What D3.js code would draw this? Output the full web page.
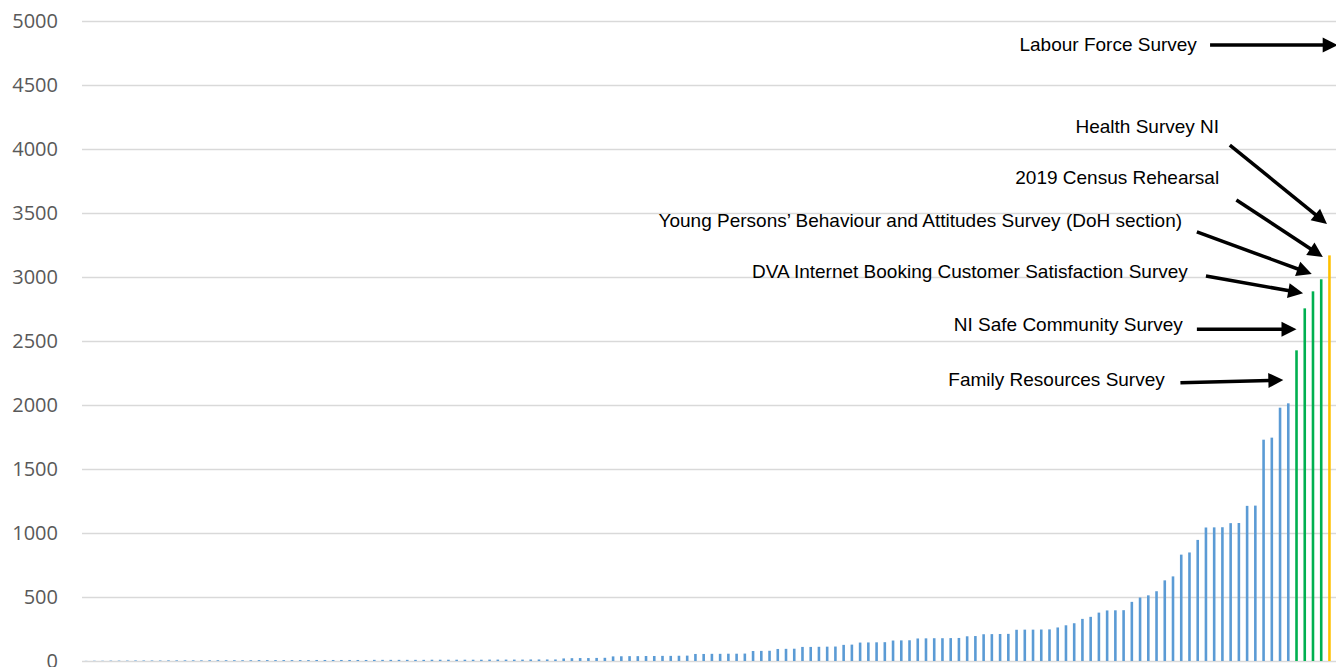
<!DOCTYPE html>
<html>
<head>
<meta charset="utf-8">
<script src="https://cdn.jsdelivr.net/npm/d3@7"></script>
<style>
  html, body { margin: 0; padding: 0; background: #ffffff; overflow: hidden; }
  svg { display: block; }
</style>
</head>
<body>
<svg id="chart" width="1336" height="667"></svg>
<script>
// Respondent counts per survey, sorted ascending
const surveyCounts = [
  1, 2, 2, 3, 3, 3, 4, 4, 4, 4,
  5, 5, 5, 5, 5, 6, 6, 6, 6, 6,
  6, 7, 7, 7, 7, 7, 7, 7, 8, 8,
  8, 8, 8, 8, 8, 9, 9, 9, 9, 9,
  9, 9, 10, 10, 10, 10, 10, 10, 10, 11,
  11, 11, 11, 11, 12, 12, 12, 12,
  20, 22, 23, 23, 24, 25,
  36, 37, 38, 38, 39, 39, 40, 40, 41, 42,
  55, 55, 56, 56, 57, 57, 58,
  78, 79, 80,
  94, 95, 96,
  110, 110, 111, 112, 113,
  126, 128,
  144, 145, 146, 147,
  160, 161, 162,
  176, 177, 178, 178, 179, 180,
  193, 195,
  209, 210, 211, 212,
  244, 245, 245, 246, 247,
  262, 279, 295, 329, 345, 378,
  395, 396, 397,
  462, 496, 513, 545, 630, 661, 831, 848, 946,
  1043, 1044, 1045,
  1077, 1078,
  1212, 1214,
  1729, 1745, 1979, 2013,
  2427, 2755, 2888, 2982, 3169, 4900
];

// One category per survey (position in the sorted list)
const surveyIndex = surveyCounts.map((_, i) => i);

// Highlighted surveys
const greenSurveys = [147, 148, 149, 150];
const amberSurveys = [151, 152];

// Y axis ticks
const yTicks = [0, 500, 1000, 1500, 2000, 2500, 3000, 3500, 4000, 4500, 5000];

// Callout labels: label anchored at its right end, arrow from -> to (index, value)
const callouts = [
  { label: "Labour Force Survey", at: [134.9, 4820], from: [136.5, 4812], to: [152.0, 4812] },
  { label: "Health Survey NI", at: [137.6, 4180], from: [138.9, 4031], to: [150.7, 3414] },
  { label: "2019 Census Rehearsal", at: [137.6, 3781], from: [139.7, 3602], to: [150.2, 3156] },
  { label: "Young Persons\u2019 Behaviour and Attitudes Survey (DoH section)", at: [133.1, 3445], from: [134.9, 3352], to: [148.85, 3023] },
  { label: "DVA Internet Booking Customer Satisfaction Survey", at: [133.8, 3047], from: [136.0, 3008], to: [147.8, 2873] },
  { label: "NI Safe Community Survey", at: [133.2, 2633], from: [134.9, 2591], to: [147.0, 2591] },
  { label: "Family Resources Survey", at: [131.0, 2203], from: [132.9, 2174], to: [145.4, 2195] }
];

const COLORS = { blue: "#5b9bd5", green: "#00b050", amber: "#ffc000", grid: "#d9d9d9", axisText: "#595959" };

const svg = d3.select("#chart");
const plotLeft = 82, plotTop = 21, plotBottom = 661;
const bandStep = 8.234;
const plotRight = plotLeft + bandStep * surveyCounts.length;

const x = d3.scaleBand()
  .domain(surveyIndex)
  .range([plotLeft, plotRight])
  .paddingInner(0.685)
  .paddingOuter(0.3425);

// Continuous index scale for placing callouts between bars
const xi = d3.scaleLinear()
  .domain([-0.5, surveyCounts.length - 0.5])
  .range([plotLeft, plotRight]);

const y = d3.scaleLinear().domain([0, 5000]).range([plotBottom, plotTop]);

// Gridlines and tick labels
const yAxis = d3.axisLeft(y)
  .tickValues(yTicks)
  .tickFormat(d3.format("d"))
  .tickSize(-(plotRight - plotLeft))
  .tickPadding(24);
const gAxis = svg.append("g")
  .attr("transform", `translate(${plotLeft},0)`)
  .call(yAxis);
gAxis.select(".domain").remove();
gAxis.selectAll(".tick line")
  .attr("stroke", COLORS.grid)
  .attr("stroke-width", 1.5);
gAxis.selectAll(".tick text")
  .attr("fill", COLORS.axisText)
  .attr("font-family", "'Open Sans', sans-serif")
  .attr("font-size", 20);

// Bars
function barColor(i) {
  if (amberSurveys.includes(i)) return COLORS.amber;
  if (greenSurveys.includes(i)) return COLORS.green;
  return COLORS.blue;
}

svg.append("g")
  .selectAll("rect")
  .data(surveyCounts)
  .join("rect")
  .attr("x", (d, i) => x(i))
  .attr("width", x.bandwidth())
  .attr("y", d => y(d))
  .attr("height", d => y(0) - y(d))
  .attr("fill", (d, i) => barColor(i));

// Callouts
const gNotes = svg.append("g");
const headLen = 15, headHalf = 7.5, lineW = 3.5;

callouts.forEach(c => {
  gNotes.append("text")
    .attr("x", xi(c.at[0]))
    .attr("y", y(c.at[1]))
    .attr("dy", "0.35em")
    .attr("text-anchor", "end")
    .attr("font-family", "'Liberation Sans', Arial, sans-serif")
    .attr("font-size", 19)
    .attr("fill", "#000")
    .text(c.label);

  const x1 = xi(c.from[0]), y1 = y(c.from[1]);
  const x2 = xi(c.to[0]), y2 = y(c.to[1]);
  const len = Math.hypot(x2 - x1, y2 - y1);
  const ux = (x2 - x1) / len, uy = (y2 - y1) / len;
  const bx = x2 - ux * headLen, by = y2 - uy * headLen;

  gNotes.append("line")
    .attr("x1", x1).attr("y1", y1)
    .attr("x2", bx + ux * 1).attr("y2", by + uy * 1)
    .attr("stroke", "#000")
    .attr("stroke-width", lineW);

  gNotes.append("path")
    .attr("d", `M${x2},${y2}L${bx - uy * headHalf},${by + ux * headHalf}L${bx + uy * headHalf},${by - ux * headHalf}Z`)
    .attr("fill", "#000");
});
</script>
</body>
</html>
